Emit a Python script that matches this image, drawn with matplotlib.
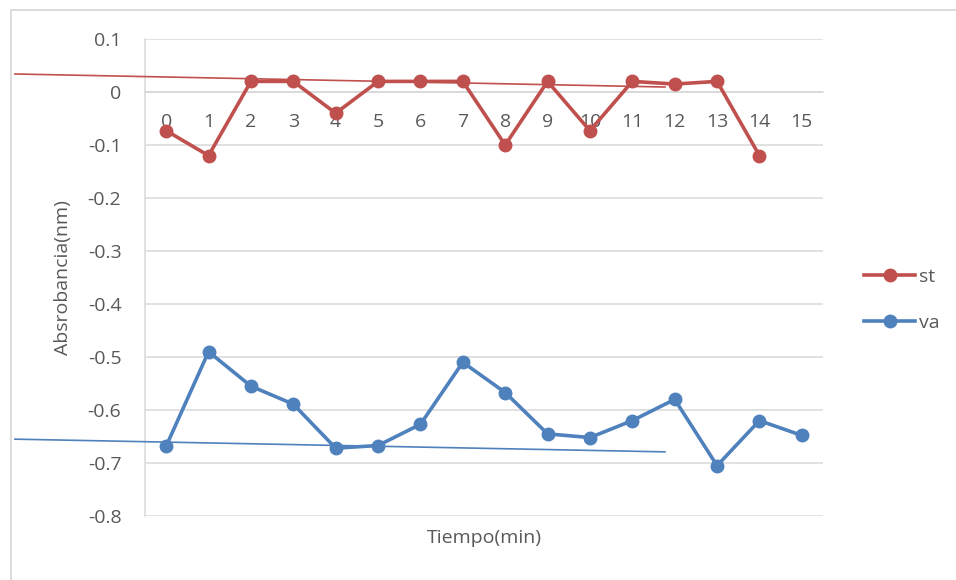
import numpy as np
import matplotlib.pyplot as plt
from matplotlib.patches import Rectangle

# data
tiempo = np.arange(16)
st = [-0.073, -0.12, 0.02, 0.02, -0.04, 0.02, 0.02, 0.02, -0.1, 0.02, -0.073, 0.02, 0.015, 0.02, -0.12, np.nan]
va = [-0.668, -0.49, -0.555, -0.589, -0.672, -0.667, -0.627, -0.51, -0.567, -0.645, -0.652, -0.62, -0.58, -0.705, -0.62, -0.648]

# hand drawn trend lines (x in category units, y in absorbance)
st_trend_x = [-3.57, 11.77]
st_trend_y = [0.034, 0.0094]
va_trend_x = [-3.57, 11.77]
va_trend_y = [-0.655, -0.679]

red = "#C0504D"
blue = "#4F81BD"
grey = "#D9D9D9"
text_c = "#595959"
fs = 14

plt.rcParams['font.family'] = ['Open Sans', 'DejaVu Sans']

fig = plt.figure(figsize=(9.56, 5.8), dpi=100)
ax = fig.add_axes([145/956, 1-516/580, 678/956, 477/580])

ax.plot(tiempo, st, color=red, linewidth=2.6, marker='o', markersize=9, label='st', zorder=3)
ax.plot(tiempo, va, color=blue, linewidth=2.6, marker='o', markersize=9, label='va', zorder=3)

ax.plot(st_trend_x, st_trend_y, color=red, linewidth=1.2, clip_on=False, zorder=4)
ax.plot(va_trend_x, va_trend_y, color=blue, linewidth=1.2, clip_on=False, zorder=4)

ax.set_xlim(-0.5, 15.5)
ax.set_ylim(-0.8, 0.1)
ax.set_yticks(np.arange(-0.8, 0.11, 0.1))
ax.set_yticklabels(['-0.8', '-0.7', '-0.6', '-0.5', '-0.4', '-0.3', '-0.2', '-0.1', '0', '0.1'])
ax.set_xticks(tiempo)
ax.set_xticklabels([str(t) for t in tiempo])

ax.grid(axis='y', color=grey, linewidth=1.1)
ax.set_axisbelow(True)
for s in ['top', 'right']:
    ax.spines[s].set_visible(False)
ax.spines['left'].set_color(grey)
ax.spines['left'].set_linewidth(1.1)
ax.spines['bottom'].set_position(('data', 0))
ax.spines['bottom'].set_color(grey)
ax.spines['bottom'].set_linewidth(1.1)

ax.tick_params(axis='both', length=0, labelsize=fs, labelcolor=text_c)
ax.tick_params(axis='y', pad=17)
ax.tick_params(axis='x', pad=15)

ax.set_ylabel('Absrobancia(nm)', fontsize=fs, color=text_c)
ax.yaxis.set_label_coords(-0.107, 0.5)
ax.set_xlabel('Tiempo(min)', fontsize=fs, color=text_c)
ax.xaxis.set_label_coords(0.5, -0.027)

ax.legend(loc='center left', bbox_to_anchor=(1.035, 0.453), frameon=False, fontsize=fs,
          labelcolor=text_c, handlelength=2.6, handletextpad=0.2, labelspacing=1.45)

# chart area border
fig.patches.append(Rectangle((11/956, -0.1), 1.2, 1 - 10/580 + 0.1, transform=fig.transFigure,
                             fill=False, edgecolor=grey, linewidth=1.3))

plt.savefig('out.png', dpi=100, facecolor='white')
